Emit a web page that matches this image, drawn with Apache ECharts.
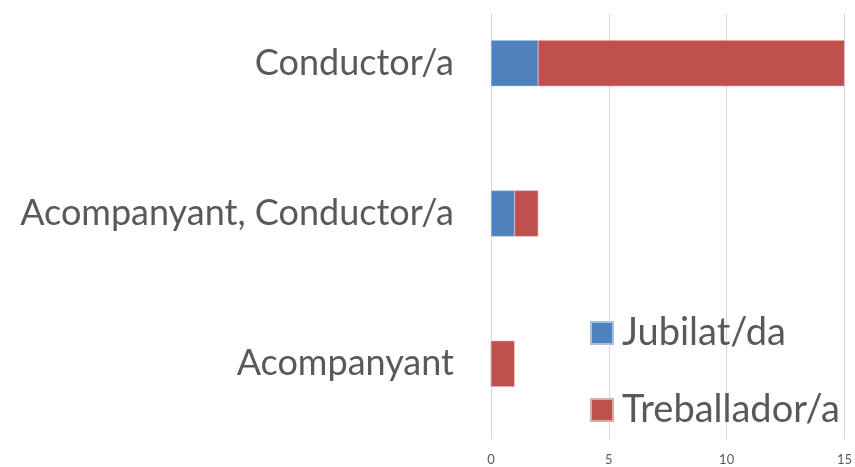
<!DOCTYPE html>
<html>
<head>
<meta charset="utf-8">
<script src="https://cdn.jsdelivr.net/npm/echarts@6/dist/echarts.min.js"></script>
<style>
  html, body { margin: 0; padding: 0; background: #fff; overflow: hidden; }
  /* plot area starts above the visible frame, as in the reference crop */
  #chart { position: absolute; left: 0; top: -12px; width: 855px; height: 479px; }
</style>
</head>
<body>
<div id="chart"></div>
<script>
// categories, bottom to top as the axis draws them
const categories = ["Acompanyant", "Acompanyant, Conductor/a", "Conductor/a"]
const jubilat = [0, 1, 2]
const treballador = [1, 1, 13]
const xTicks = [0, 5, 10, 15]

const chart = echarts.init(document.getElementById("chart"))
const font = "Lato, 'Open Sans', sans-serif"

chart.setOption({
    animation: false,
    grid: { left: 491, right: 10, top: 0, bottom: 28 },
    // the gridlines stop a little below the top edge
    graphic: [{
        type: "rect",
        z: 100,
        shape: { x: 470, y: 0, width: 385, height: 26 },
        style: { fill: "#fff" }
    }],
    legend: {
        orient: "vertical",
        left: 585,
        top: 321,
        itemWidth: 22,
        itemHeight: 22,
        itemGap: 39,
        icon: "rect",
        textStyle: { fontFamily: font, fontSize: 38, color: "#595959", padding: [0, 0, 0, 4] },
        data: ["Jubilat/da", "Treballador/a"]
    },
    xAxis: {
        type: "value",
        min: 0,
        max: 15,
        interval: 5,
        axisLine: { show: false },
        axisTick: { show: false },
        axisLabel: {
            color: "#595959",
            fontFamily: font,
            fontSize: 13,
            margin: 14,
            formatter: (v) => xTicks.includes(v) ? String(v) : ""
        },
        splitLine: { lineStyle: { color: "#d9d9d9", width: 1 } }
    },
    yAxis: {
        type: "category",
        data: categories,
        axisLine: { show: false },
        axisTick: { show: false },
        axisLabel: {
            color: "#595959",
            fontFamily: font,
            fontSize: 36,
            margin: 37
        }
    },
    series: [
        {
            name: "Jubilat/da",
            type: "bar",
            stack: "total",
            barWidth: 46,
            data: jubilat,
            itemStyle: { color: "#4f81bd", borderColor: "#a7c0de", borderWidth: 0.5 }
        },
        {
            name: "Treballador/a",
            type: "bar",
            stack: "total",
            barWidth: 46,
            data: treballador,
            itemStyle: { color: "#c0504d", borderColor: "#dfa7a6", borderWidth: 0.5 }
        }
    ]
})
</script>
</body>
</html>
